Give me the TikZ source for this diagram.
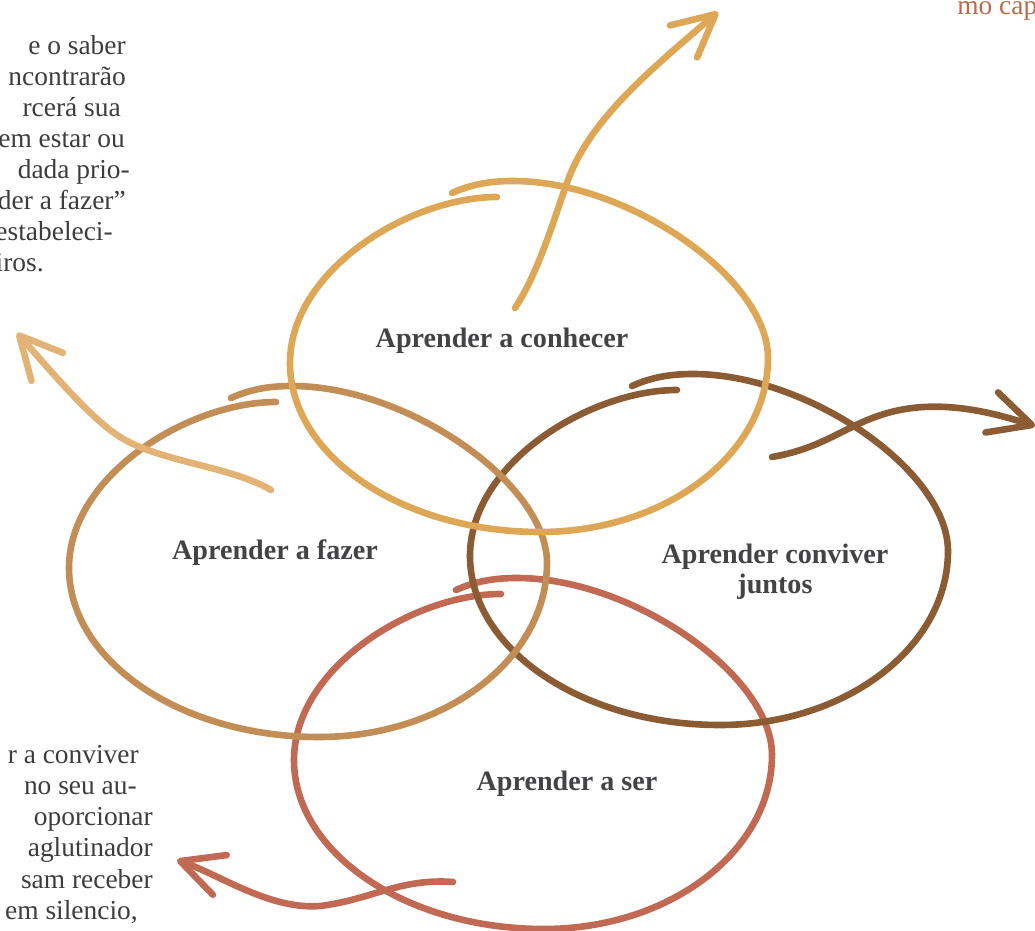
\documentclass[tikz,border=0pt]{standalone}
\usepackage{fontspec}
\setmainfont{Liberation Serif}
\usetikzlibrary{arrows.meta}
\definecolor{cKnow}{HTML}{DDA756}
\definecolor{cDo}{HTML}{C28E56}
\definecolor{cDoArrow}{HTML}{E3B375}
\definecolor{cLive}{HTML}{8B5C33}
\definecolor{cBe}{HTML}{C26953}
\definecolor{cLabel}{HTML}{434346}
\definecolor{cBody}{HTML}{3D3D3F}
\definecolor{cNote}{HTML}{B86B47}
% one hand-drawn loop, the same stroke shifted for each circle
\newcommand{\handloop}[2]{%
  \draw[loopline,#1,shift={#2}] (452,193) .. controls (470,185) and (488,181) .. (513,181)
    .. controls (628,181) and (768,278) .. (768,358)
    .. controls (768,454) and (666,532) .. (540,532)
    .. controls (402,532) and (290,456) .. (290,363)
    .. controls (290,270) and (410,197) .. (497,197);}

\begin{document}
\begin{tikzpicture}[x=0.025cm,y=-0.025cm,
    loopline/.style={line width=0.165cm,line cap=round,line join=round},
    arrowline/.style={loopline,-{Straight Barb[length=1.05cm,width=1.05cm,round]}},
    looptext/.style={font=\fontsize{20}{21.5}\selectfont\bfseries,text=cLabel,inner sep=0pt,align=center},
    pagetext/.style={font=\fontsize{19.5}{22}\selectfont,text=cBody,inner sep=0pt,anchor=base east}]
  \useasboundingbox (0,0) rectangle (1035,931);
  % ---- page text around the figure ----
  \node[pagetext] (pa1) at (126,55)  {e o saber};
  \node[pagetext] (pa2) at (126,86)  {ncontrarão};
  \node[pagetext] (pa3) at (121,117) {rcerá sua};
  \node[pagetext] (pa4) at (125,148) {em estar ou};
  \node[pagetext] (pa5) at (130,179) {dada prio-};
  \node[pagetext] (pa6) at (126,210) {der a fazer”};
  \node[pagetext] (pa7) at (113,241) {estabeleci-};
  \node[pagetext] (pa8) at (44,272)  {iros.};
  \node[pagetext] (pb1) at (139,764) {r a conviver};
  \node[pagetext] (pb2) at (137,795) {no seu au-};
  \node[pagetext] (pb3) at (153,826) {oporcionar};
  \node[pagetext] (pb4) at (153,857) {aglutinador};
  \node[pagetext] (pb5) at (153,888) {sam receber};
  \node[pagetext] (pb6) at (138,919) {em silencio,};
  \node[pagetext,anchor=base west,text=cNote] (note) at (957,15) {mo cap};
  % ---- Aprender a ser ----
  \handloop{cBe}{(4,397)}
  \draw[arrowline,cBe] (453,882) .. controls (400,878) and (370,900) .. (320,906)
    .. controls (270,910) and (220,875) .. (177,860);
  % ---- Aprender conviver juntos ----
  \handloop{cLive}{(180,193)}
  \draw[arrowline,cLive] (772,457) .. controls (830,447) and (850,420) .. (900,410)
    .. controls (950,400) and (1000,415) .. (1035,426);
  % ---- Aprender a fazer ----
  \handloop{cDo}{(-221,205)}
  \draw[arrowline,cDoArrow] (271,490) .. controls (230,466) and (160,462) .. (120,437)
    .. controls (90,418) and (50,370) .. (17,333);
  % ---- Aprender a conhecer ----
  \handloop{cKnow}{(0,0)}
  \draw[arrowline,cKnow] (515,308) .. controls (540,270) and (555,215) .. (568,180)
    .. controls (590,120) and (650,70) .. (718,12);
  % ---- circle labels ----
  \node[looptext,anchor=base] (know) at (502,348) {Aprender a conhecer};
  \node[looptext,anchor=base] (do)   at (275,560) {Aprender a fazer};
  \node[looptext] (live) at (775,572) {Aprender conviver\\juntos};
  \node[looptext,anchor=base] (be)   at (567,791) {Aprender a ser};
\end{tikzpicture}
\end{document}
